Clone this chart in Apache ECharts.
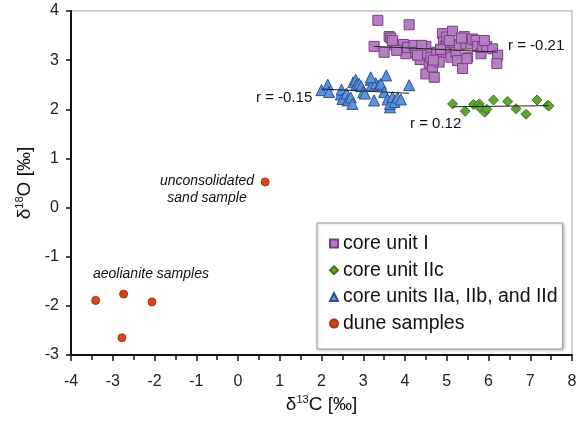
<!DOCTYPE html>
<html>
<head>
<meta charset="utf-8">
<script src="https://cdn.jsdelivr.net/npm/echarts@6/dist/echarts.min.js"></script>
<style>
  html, body { margin: 0; padding: 0; background: #fff; }
  #chart { width: 586px; height: 421px; }
</style>
</head>
<body>
<div id="chart"></div>
<script>
// δ13C / δ18O pairs for each sample group
const coreUnitI = [
  [3.35,3.81],[4.10,3.72],[3.26,3.28],[3.50,3.16],[3.62,3.48],[3.66,3.45],[3.74,3.31],[3.86,3.21],
  [3.96,3.32],[4.02,3.13],[4.06,3.26],[4.22,3.30],[4.26,3.16],[4.36,3.01],[4.46,3.20],[4.50,3.28],
  [4.54,3.13],[4.58,2.93],[4.62,3.06],[4.63,2.76],[4.50,2.72],[4.66,2.86],[4.76,3.16],[4.82,2.96],
  [4.90,3.54],[4.92,3.37],[4.98,3.30],[5.00,3.47],[5.03,3.16],[5.10,3.06],[5.14,3.59],[5.18,3.33],
  [5.22,3.16],[5.26,2.99],[5.30,3.30],[5.38,2.83],[5.42,3.48],[5.46,3.33],[5.50,3.06],[5.58,3.33],
  [5.62,3.43],[5.70,3.40],[5.74,3.28],[5.82,3.13],[5.86,3.26],[5.96,3.28],[6.10,3.23],[6.22,3.10],
  [6.20,2.93],[5.48,3.03],[4.70,2.65],[3.70,3.40],[3.80,3.20],[4.40,3.30],[4.85,3.22],[5.06,3.40],
  [5.35,3.45],[5.90,3.40],[4.30,3.10],[4.68,3.00]
];
const coreUnitIIc = [
  [5.14,2.11],[5.44,1.96],[5.64,2.10],[5.75,2.08],[5.78,2.11],[5.80,2.03],[5.91,1.94],[5.96,2.00],
  [6.12,2.19],[6.46,2.16],[6.66,2.01],[6.90,1.90],[7.16,2.19],[7.42,2.08],[7.45,2.07]
];
const coreUnitsIIabd = [
  [2.00,2.39],[2.15,2.50],[2.18,2.35],[2.46,2.30],[2.48,2.40],[2.50,2.21],[2.60,2.32],[2.63,2.18],
  [2.70,2.24],[2.74,2.11],[2.76,2.55],[2.82,2.60],[2.84,2.50],[2.90,2.52],[2.95,2.47],[3.00,2.35],
  [3.04,2.32],[3.18,2.60],[3.20,2.49],[3.26,2.18],[3.30,2.53],[3.38,2.49],[3.42,2.52],[3.50,2.35],
  [3.55,2.69],[3.58,2.20],[3.64,2.04],[3.64,2.11],[3.70,2.25],[3.75,2.15],[3.82,2.24],[3.90,2.20],
  [4.10,2.49],[3.18,2.65]
];
const duneSamples = [
  [0.65,0.52],[-3.41,-1.89],[-2.74,-1.76],[-2.06,-1.92],[-2.78,-2.65]
];
const seriesNames = ['core unit I', 'core unit IIc', 'core units IIa, IIb, and IId', 'dune samples'];
const xTicks = { min: -4, max: 8, step: 1 };
const yTicks = { min: -3, max: 4, step: 1 };

// least-squares fit across the x-range of one group
function fitLine(pts) {
  const n = pts.length;
  let sx = 0, sy = 0, sxx = 0, sxy = 0;
  pts.forEach(([x, y]) => { sx += x; sy += y; sxx += x * x; sxy += x * y; });
  const b = (n * sxy - sx * sy) / (n * sxx - sx * sx);
  const a = (sy - b * sx) / n;
  const xs = pts.map(p => p[0]);
  const x0 = Math.min(...xs), x1 = Math.max(...xs);
  return [[x0, a + b * x0], [x1, a + b * x1]];
}

const font = 'Liberation Sans, Arial, sans-serif';
const chart = echarts.init(document.getElementById('chart'), null, { renderer: 'canvas' });

function scatter(name, data, symbol, size, fill, stroke) {
  return {
    name, type: 'scatter', data, symbol, symbolSize: size, z: 3,
    itemStyle: { color: fill, borderColor: stroke, borderWidth: 1, opacity: 1 }
  };
}
function trend(data) {
  return {
    type: 'line', data, symbol: 'none', silent: true, z: 4,
    lineStyle: { color: '#222', width: 1 }
  };
}
const axisName = {
  fontSize: 19, color: '#111', fontFamily: font,
  rich: { sup: { fontSize: 11, padding: [0, 0, 9, 0], color: '#111', fontFamily: font } }
};

chart.setOption({
  animation: false,
  backgroundColor: '#fff',
  textStyle: { fontFamily: font },
  grid: {
    left: 71, right: 14, top: 11, bottom: 66,
    show: true, borderColor: '#a0a0a0', borderWidth: 1, backgroundColor: 'transparent'
  },
  xAxis: {
    type: 'value', min: xTicks.min, max: xTicks.max, interval: xTicks.step,
    name: 'δ{sup|13}C [‰]', nameLocation: 'middle', nameGap: 39,
    nameTextStyle: axisName,
    axisLine: { show: true, onZero: false, lineStyle: { color: '#111', width: 2 } },
    axisTick: { show: true, inside: false, length: 6, lineStyle: { color: '#111', width: 1.5 } },
    minorTick: { show: true, splitNumber: 2, length: 5, lineStyle: { color: '#111', width: 1.5 } },
    axisLabel: { fontSize: 16, color: '#222', margin: 19, fontFamily: font },
    splitLine: { show: false }
  },
  yAxis: {
    type: 'value', min: yTicks.min, max: yTicks.max, interval: yTicks.step,
    name: 'δ{sup|18}O [‰]', nameLocation: 'middle', nameGap: 35, nameRotate: 90,
    nameTextStyle: axisName,
    axisLine: { show: true, onZero: false, lineStyle: { color: '#111', width: 2 } },
    axisTick: { show: true, inside: false, length: 5, lineStyle: { color: '#111', width: 1.5 } },
    axisLabel: { fontSize: 16, color: '#222', margin: 12, fontFamily: font },
    splitLine: { show: false }
  },
  legend: {
    data: seriesNames,
    orient: 'vertical', left: 317, top: 223,
    padding: [10.5, 5, 15.5, 12],
    itemGap: 6.7, itemWidth: 8, itemHeight: 8, itemTextGap: 13,
    borderColor: '#9a9a9a', borderWidth: 1, backgroundColor: '#fff',
    shadowColor: 'rgba(0,0,0,0.25)', shadowBlur: 3, shadowOffsetX: 1, shadowOffsetY: 1,
    textStyle: { fontSize: 19.5, color: '#111', fontFamily: font, lineHeight: 20 }
  },
  graphic: [
    { type: 'text', x: 508, y: 46, style: { text: 'r = -0.21', font: '15px ' + font, fill: '#111', verticalAlign: 'middle' } },
    { type: 'text', x: 256, y: 98, style: { text: 'r = -0.15', font: '15px ' + font, fill: '#111', verticalAlign: 'middle' } },
    { type: 'text', x: 410, y: 124, style: { text: 'r = 0.12', font: '15px ' + font, fill: '#111', verticalAlign: 'middle' } },
    { type: 'text', x: 207, y: 173, style: { text: 'unconsolidated\nsand sample', font: 'italic 14px ' + font, fill: '#111', align: 'center', verticalAlign: 'top', lineHeight: 17 } },
    { type: 'text', x: 93, y: 274, style: { text: 'aeolianite samples', font: 'italic 14px ' + font, fill: '#111', verticalAlign: 'middle' } }
  ],
  series: [
    scatter(seriesNames[0], coreUnitI, 'rect', 10, '#b47fc2', '#7a3f80'),
    scatter(seriesNames[1], coreUnitIIc, 'diamond', 10, '#5fa531', '#3b7a1a'),
    scatter(seriesNames[2], coreUnitsIIabd, 'triangle', 11, '#5b93d9', '#2d4f9a'),
    scatter(seriesNames[3], duneSamples, 'circle', 8, '#d2481c', '#a8361a'),
    trend(fitLine(coreUnitI)),
    trend(fitLine(coreUnitIIc)),
    trend(fitLine(coreUnitsIIabd))
  ]
});
</script>
</body>
</html>
